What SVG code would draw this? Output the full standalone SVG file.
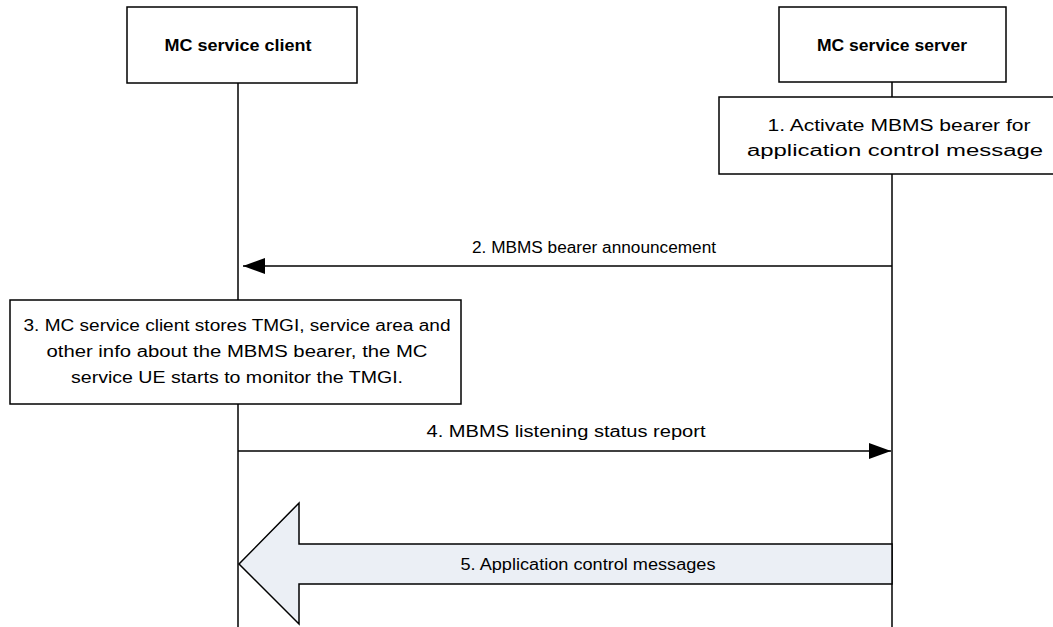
<svg xmlns="http://www.w3.org/2000/svg" width="1053" height="627" viewBox="0 0 1053 627">
<defs>
<style>
.box{fill:#fff;stroke:#000;stroke-width:1.5}
.life{stroke:#000;stroke-width:1.5;fill:none}
.msg{stroke:#000;stroke-width:1.5;fill:none}
text{font-family:"Liberation Sans",Arial,sans-serif;font-size:16px;fill:#000;text-anchor:middle;dominant-baseline:central}
.b{font-weight:bold}
</style>
<marker id="ah" viewBox="0 0 22 16" refX="22" refY="8" markerWidth="22" markerHeight="16" markerUnits="userSpaceOnUse" orient="auto">
<path d="M0,0 L22,8 L0,16 Z" fill="#000"/>
</marker>
</defs>
<rect width="1053" height="627" fill="#fff"/>
<g id="lifelines">
<line class="life" x1="238" y1="83" x2="238" y2="627"/>
<line class="life" x1="892" y1="82" x2="892" y2="627"/>
</g>
<g id="client">
<rect class="box" x="127" y="7" width="230" height="76"/>
<text class="b" x="238" y="45" textLength="147" lengthAdjust="spacingAndGlyphs">MC service client</text>
</g>
<g id="server">
<rect class="box" x="779" y="7" width="227" height="75"/>
<text class="b" x="892" y="45" textLength="150" lengthAdjust="spacingAndGlyphs">MC service server</text>
</g>
<g id="step1">
<rect class="box" x="719" y="97" width="345" height="77"/>
<text x="899" y="125" textLength="263" lengthAdjust="spacingAndGlyphs">1. Activate MBMS bearer for</text>
<text x="895" y="150" textLength="296" lengthAdjust="spacingAndGlyphs">application control message</text>
</g>
<g id="step3">
<rect class="box" x="10" y="300" width="451" height="104"/>
<text x="237" y="325" textLength="427" lengthAdjust="spacingAndGlyphs">3. MC service client stores TMGI, service area and</text>
<text x="237" y="351" textLength="381" lengthAdjust="spacingAndGlyphs">other info about the MBMS bearer, the MC</text>
<text x="237" y="377" textLength="332" lengthAdjust="spacingAndGlyphs">service UE starts to monitor the TMGI.</text>
</g>
<g id="connectors">
<line class="msg" x1="892" y1="266" x2="243" y2="266" marker-end="url(#ah)"/>
<text x="594" y="247" textLength="244" lengthAdjust="spacingAndGlyphs">2. MBMS bearer announcement</text>
<line class="msg" x1="238" y1="451" x2="891" y2="451" marker-end="url(#ah)"/>
<text x="566" y="431" textLength="279" lengthAdjust="spacingAndGlyphs">4. MBMS listening status report</text>
<path d="M892,544 L299,544 L299,503 L239,564 L299,624 L299,584 L892,584 Z" fill="#ebeff5" stroke="#000" stroke-width="1.5" stroke-linejoin="miter"/>
<text x="588" y="564" textLength="255" lengthAdjust="spacingAndGlyphs">5. Application control messages</text>
</g>
</svg>
